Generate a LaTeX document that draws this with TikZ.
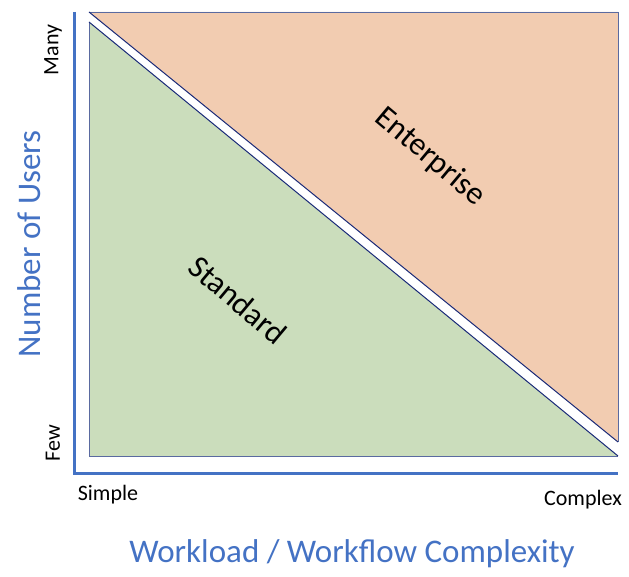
\documentclass[tikz,border=0pt]{standalone}
\usepackage{fontspec}
\setmainfont{Carlito}
\definecolor{axisblue}{HTML}{4472C4}
\definecolor{ent}{HTML}{F2CCB1}
\definecolor{std}{HTML}{CBDDBC}
\definecolor{edge}{HTML}{5A6AA0}
\definecolor{hyp}{HTML}{1A2A78}
\begin{document}
\begin{tikzpicture}[x=1pt,y=-1pt,
  lbl/.style={font=\fontsize{22}{22}\selectfont, inner sep=0pt},
  big/.style={font=\fontsize{33}{33}\selectfont, text=axisblue, inner sep=0pt},
  zone/.style={font=\fontsize{32}{32}\selectfont, inner sep=0pt, rotate=-40}]
\useasboundingbox (0,0) rectangle (629,577);
% axes
\coordinate (ytop) at (74.5,12);
\coordinate (orig) at (74.5,473.5);
\coordinate (xend) at (618,473.5);
\draw[axisblue, line width=3.2pt] (ytop) -- (orig) -- (xend);
% standard triangle
\coordinate (sA) at (89,22);
\coordinate (sB) at (89,456);
\coordinate (sC) at (618,456);
\fill[std] (sA) -- (sB) -- (sC) -- cycle;
\draw[edge, line width=0.9pt] (sA) -- (sB) -- (sC);
\draw[hyp, line width=1pt] (sC) -- (sA);
% enterprise triangle
\coordinate (eA) at (89,12);
\coordinate (eB) at (618,12);
\coordinate (eC) at (618,442);
\fill[ent] (eA) -- (eB) -- (eC) -- cycle;
\draw[edge, line width=0.9pt] (eA) -- (eB) -- (eC);
\draw[hyp, line width=1pt] (eC) -- (eA);
% labels
\node[lbl, rotate=90] (many) at (53,50) {Many};
\node[lbl, rotate=90] (few) at (53,443) {Few};
\node[lbl] (simple) at (108,495) {Simple};
\node[lbl] (complex) at (583,500) {Complex};
\node[big, rotate=90] (yl) at (29,244) {Number of Users};
\node[big] (xl) at (352,554) {Workload / Workflow Complexity};
\node[zone] (enterprise) at (430,157) {Enterprise};
\node[zone] (standard) at (238,300) {Standard};
\end{tikzpicture}
\end{document}
